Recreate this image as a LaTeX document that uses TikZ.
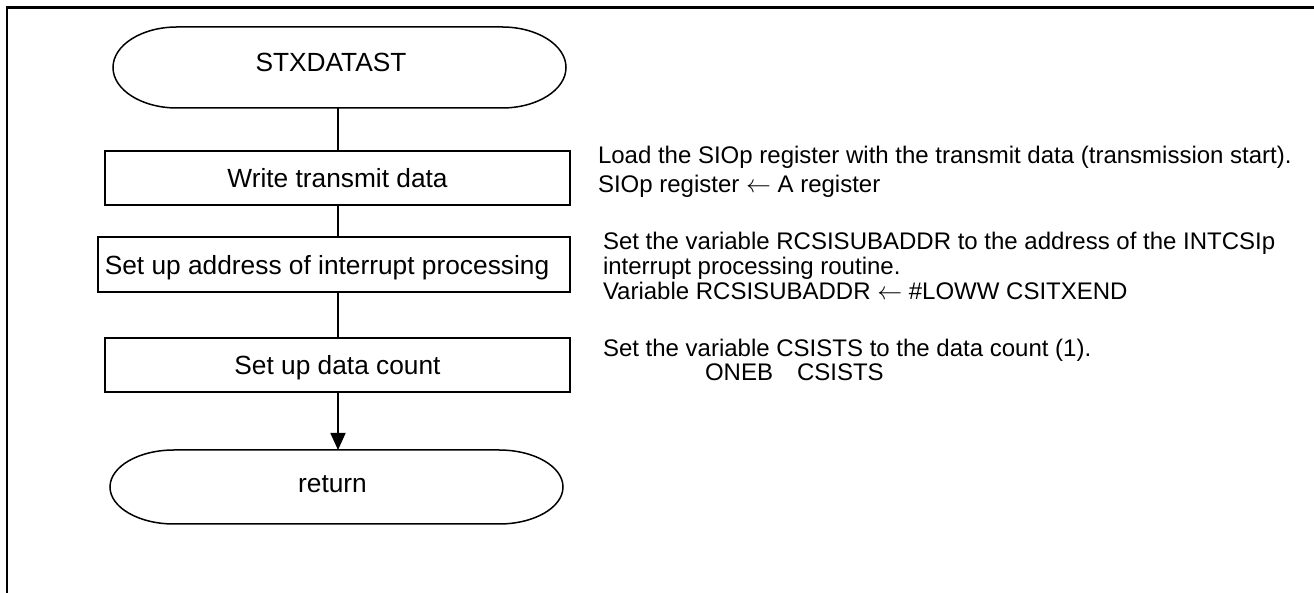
\documentclass[tikz,border=0pt]{standalone}
\usepackage{fontspec}
\setmainfont{Liberation Sans}
\usetikzlibrary{arrows.meta,calc}
\newcommand\drawterminal[3]{%
  \draw[line width=1.5pt] ($(#1.north east)+(-#2,0)$)
    arc[start angle=90,end angle=-90,x radius=#2,y radius=#3]
    -- ($(#1.south west)+(#2,0)$)
    arc[start angle=270,end angle=90,x radius=#2,y radius=#3] -- cycle;}
\begin{document}
\begin{tikzpicture}[x=1pt,y=1pt,
  every node/.style={inner sep=0pt, outer sep=0pt},
  flow/.style={line width=1.6pt},
  procbox/.style={draw, line width=1.5pt, font=\fontsize{26.3}{30}\selectfont, text height=20pt, text depth=0pt},
  termtext/.style={font=\fontsize{26.3}{30}\selectfont, anchor=base},
  note/.style={font=\fontsize{24}{28}\selectfont, anchor=base west}
]
\useasboundingbox (0,0) rectangle (1314,593);
\draw[line width=2.2pt] (7,0) -- (7,585.5) -- (1314,585.5);

% terminals
\node[minimum width=453pt, minimum height=81pt] (t1) at (339.5,525.5) {};
\drawterminal{t1}{64}{40.5}
\node[termtext] (t1t) at (331,521) {STXDATAST};

\node[minimum width=453pt, minimum height=74pt] (t2) at (336.5,106) {};
\drawterminal{t2}{64}{37}
\node[termtext] (t2t) at (332.5,100) {return};

% process boxes
\node[procbox, minimum width=465pt, minimum height=54pt] (b1) at (337.5,415) {Write transmit data};
\node[procbox, minimum width=472pt, minimum height=55pt] (b2) at (334,328.5) {\hspace*{-14pt}Set up address of interrupt processing};
\node[procbox, minimum width=465pt, minimum height=54pt] (b3) at (337.5,228) {Set up data count};

% connectors
\coordinate (cx) at (338,0);
\draw[flow] (t1.south -| cx) -- (b1.north -| cx);
\draw[flow] (b1.south -| cx) -- (b2.north -| cx);
\draw[flow] (b2.south -| cx) -- (b3.north -| cx);
\draw[flow, -{Triangle[length=17pt,width=15pt]}] (b3.south -| cx) -- (t2.north -| cx);

% annotations
\node[note] (n1a) at (598,429) {Load the SIOp register with the transmit data (transmission start).};
\node[note] (n1b) at (598,400) {SIOp register $\leftarrow$ A register};
\node[note] (n2a) at (603,343) {Set the variable RCSISUBADDR to the address of the INTCSIp};
\node[note] (n2b) at (603,318) {interrupt processing routine.};
\node[note] (n2c) at (603,293) {Variable RCSISUBADDR $\leftarrow$ \#LOWW CSITXEND};
\node[note] (n3a) at (603,236) {Set the variable CSISTS to the data count (1).};
\node[note] (n3b) at (705,212) {ONEB\hspace{24pt}CSISTS};
\end{tikzpicture}
\end{document}
